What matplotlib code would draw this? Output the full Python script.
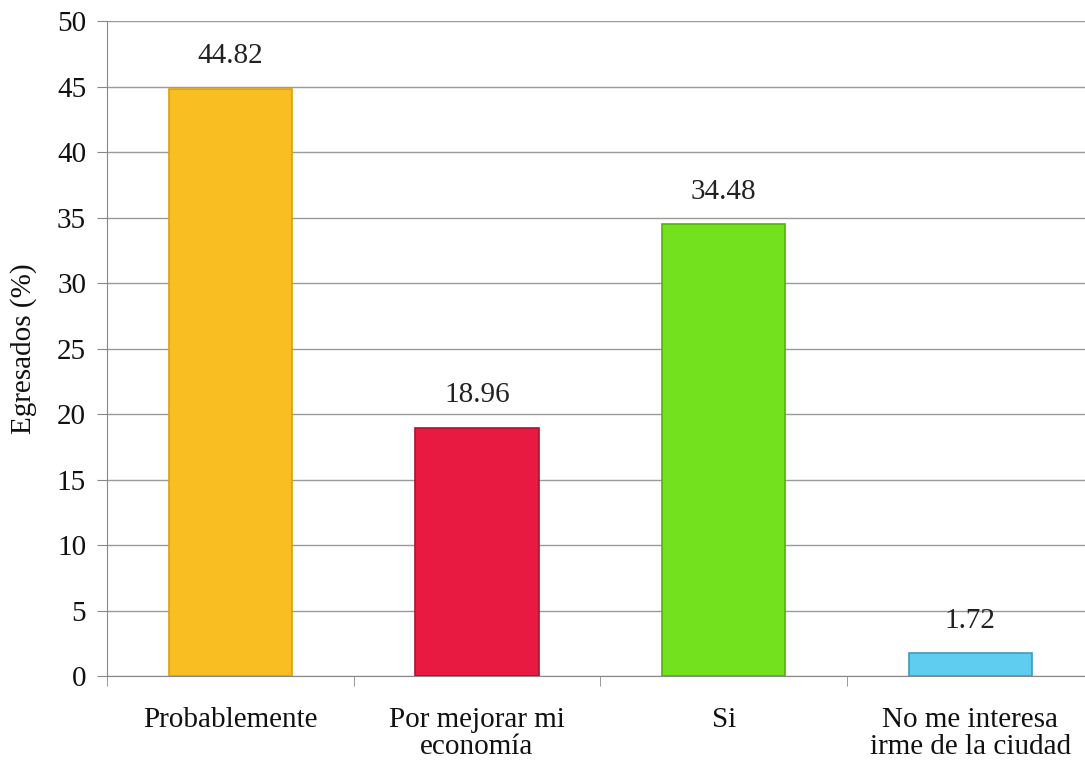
import matplotlib.pyplot as plt
import numpy as np

# data
categories = ["Probablemente", "Por mejorar mi\neconomía", "Si",
              "No me interesa\nirme de la ciudad"]
values = [44.82, 18.96, 34.48, 1.72]
value_labels = ["44.82", "18.96", "34.48", "1.72"]
bar_colors = ["#F8BE22", "#E81A42", "#74E11E", "#5ECDF0"]
edge_colors = ["#D9A010", "#B01030", "#55B010", "#3A9CC0"]
y_ticks = [0, 5, 10, 15, 20, 25, 30, 35, 40, 45, 50]

plt.rcParams["font.family"] = ["Liberation Serif", "DejaVu Serif"]

fig = plt.figure(figsize=(10.85, 7.65), dpi=100)
ax = fig.add_axes([0.0986, 0.1163, 0.9014, 0.8562])

x = np.arange(len(categories))
bars = ax.bar(x, values, width=0.5, color=bar_colors, edgecolor=edge_colors,
              linewidth=1.2, zorder=3)

for rect, txt in zip(bars, value_labels):
    ax.annotate(txt, xy=(rect.get_x() + rect.get_width() / 2, rect.get_height()),
                xytext=(0, 14), textcoords="offset points",
                ha="center", va="bottom", fontsize=21, color="#222222")

ax.set_ylim(0, 50)
ax.set_xlim(-0.5, 3.465)
ax.set_yticks(y_ticks)
ax.tick_params(axis="y", labelsize=21, length=7, color="#888888", pad=8,
               labelcolor="#111111")
ax.yaxis.grid(True, color="#9a9a9a", linewidth=1.0, zorder=0)

ax.set_xticks(x)
ax.set_xticklabels(categories, fontsize=21, linespacing=1.05, color="#111111")
ax.tick_params(axis="x", length=0, pad=22)
ax.set_xticks([-0.5, 0.5, 1.5, 2.5], minor=True)
ax.tick_params(axis="x", which="minor", length=7, color="#888888")

ax.set_ylabel("Egresados (%)", fontsize=21, color="#111111")
ax.yaxis.set_label_coords(-0.0716, 0.5)

for side in ["top", "right"]:
    ax.spines[side].set_visible(False)
ax.spines["left"].set_color("#888888")
ax.spines["bottom"].set_color("#888888")

fig.savefig("out.png", dpi=100)
